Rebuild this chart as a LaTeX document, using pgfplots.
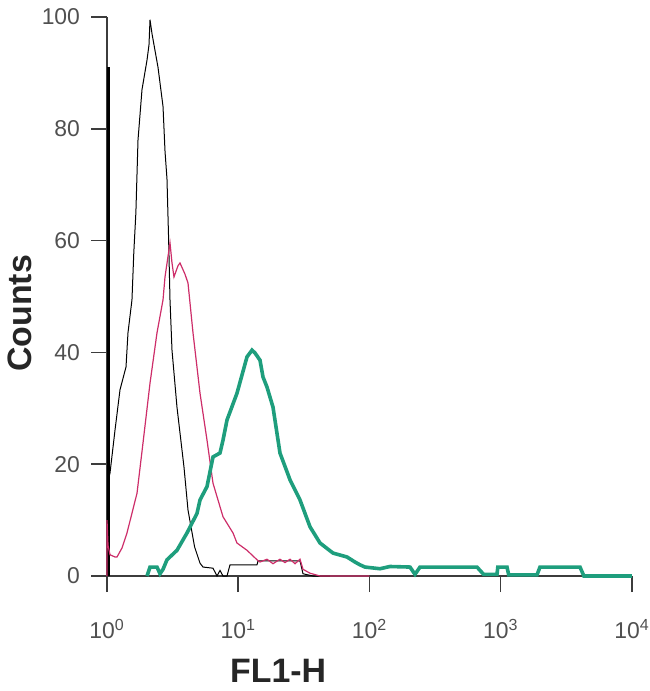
\documentclass[border=0pt]{standalone}
\usepackage{pgfplots}
\pgfplotsset{compat=1.18}
\usepackage{fontspec}
\setmainfont{Liberation Sans}
\definecolor{fitc}{RGB}{30,158,125}
\definecolor{iso}{RGB}{205,45,105}
\definecolor{axgray}{RGB}{60,60,60}
\definecolor{lblgray}{RGB}{80,80,80}

\begin{document}
\begin{tikzpicture}
\begin{axis}[
  at={(0,0)}, anchor=south west,
  scale only axis,
  width=262.5bp, height=279.5bp,
  xmode=log,
  xmin=1, xmax=10000,
  ymin=0, ymax=100,
  axis x line*=bottom,
  axis y line*=left,
  axis line style={axgray, line width=0.75bp},
  tick style={axgray, line width=0.75bp},
  tick align=outside,
  major tick length=8bp,
  xminorticks=false,
  yminorticks=false,
  xtick={1,10,100,1000,10000},
  xticklabels={10\textsuperscript{0},10\textsuperscript{1},10\textsuperscript{2},10\textsuperscript{3},10\textsuperscript{4}},
  ytick={0,20,40,60,80,100},
  /pgf/number format/assume math mode=true,
  tick label style={font=\fontsize{11.5}{13}\selectfont, text=lblgray},
  xticklabel style={yshift=-10bp},
  yticklabel style={xshift=-2bp},
  xlabel={FL1-H},
  ylabel={Counts},
  label style={font=\fontsize{17}{20}\selectfont\bfseries, text=black!85},
  xlabel style={at={(axis description cs:0.326,-0.17)}, anchor=center},
  ylabel style={at={(axis description cs:-0.166,0.47)}, anchor=center},
  clip=false,
]

% unstained control (black), first channel spike drawn heavier
\addplot[black, line width=1.5bp] coordinates {
  (1.018,0) (1.018,91)
};
\addplot[black, line width=0.5bp] coordinates {
  (1.036,17.7) (1.054,18.4) (1.151,26.1)
  (1.256,33.3) (1.396,37.4) (1.445,43.5) (1.550,49.4) (1.600,57.8)
  (1.660,65) (1.723,78) (1.848,87) (2.018,92.3) (2.089,95) (2.127,99.5)
  (2.203,97) (2.242,96) (2.447,91) (2.672,84) (2.767,76) (2.865,71)
  (2.950,60) (3.020,49.4) (3.128,40.4) (3.414,30.2) (3.860,19.5)
  (4.142,11.8) (4.650,5.2) (5.113,2.3) (5.389,1.6) (6.422,1.4)
  (6.889,0) (7.262,1.0) (7.654,0) (8.210,0) (8.653,2.0) (13.90,2.0)
  (14.15,2.7) (29.55,2.7) (31.15,0.4) (37.12,0) (50.00,0)
};

% isotype control (pink)
\addplot[iso, line width=0.6bp] coordinates {
  (1.000,0) (1.000,10) (1.018,5.5) (1.054,3.8) (1.151,3.4) (1.192,3.4)
  (1.300,5.0) (1.420,7.7) (1.693,14.8) (1.881,23.8) (2.127,34.5)
  (2.404,43.5) (2.672,49.4) (2.767,53.5) (3.020,59.6) (3.128,56)
  (3.239,53.5) (3.475,55.5) (3.599,56) (3.929,54) (4.142,52.4)
  (4.522,43.5) (5.113,32.7) (5.781,24.3) (6.422,16.6) (7.654,10.6)
  (9.120,7.7) (9.783,5.9) (11.66,4.6) (13.90,2.9) (14.65,2.5)
  (16.56,3.0) (18.40,2.2) (20.80,3.0) (22.71,2.4) (24.80,3.0)
  (27.07,2.2) (29.55,3.0) (31.15,1.2) (35.22,0.5) (41.98,0) (100,0)
};

% specific antibody (teal)
\addplot[fitc, line width=1.8bp] coordinates {
  (2.018,0) (2.127,1.6) (2.404,1.6) (2.534,0.4) (2.672,1.2)
  (2.865,2.9) (3.414,4.6) (4.070,7.7) (4.850,11.2) (5.113,13.6)
  (5.781,16) (6.422,21.3) (7.262,22) (7.654,24.3) (8.210,27.9)
  (9.783,32.7) (11.66,39.2) (12.73,40.4) (13.42,39.9) (14.65,38.6)
  (15.44,35.6) (16.56,33.8) (18.40,30.2) (20.80,22) (24.80,17.2)
  (29.55,13.6) (35.22,8.8) (41.98,5.9) (52.72,4.1) (67.40,3.4)
  (77.52,2.5) (84.65,2.0) (92.40,1.6) (120.2,1.3) (143.3,1.7)
  (203.5,1.6) (222.2,0.3) (242.6,1.6) (410.6,1.6) (659.2,1.6)
  (740.0,0.3) (936,0.3) (950,1.6) (1116,1.6) (1150,0.2) (1889,0.2)
  (1991,1.6) (4017,1.6) (4300,0) (10000,0)
};

\end{axis}
\pgfresetboundingbox
\useasboundingbox (-53.5bp,-57.5bp) rectangle (271.5bp,288bp);
\end{tikzpicture}
\end{document}
